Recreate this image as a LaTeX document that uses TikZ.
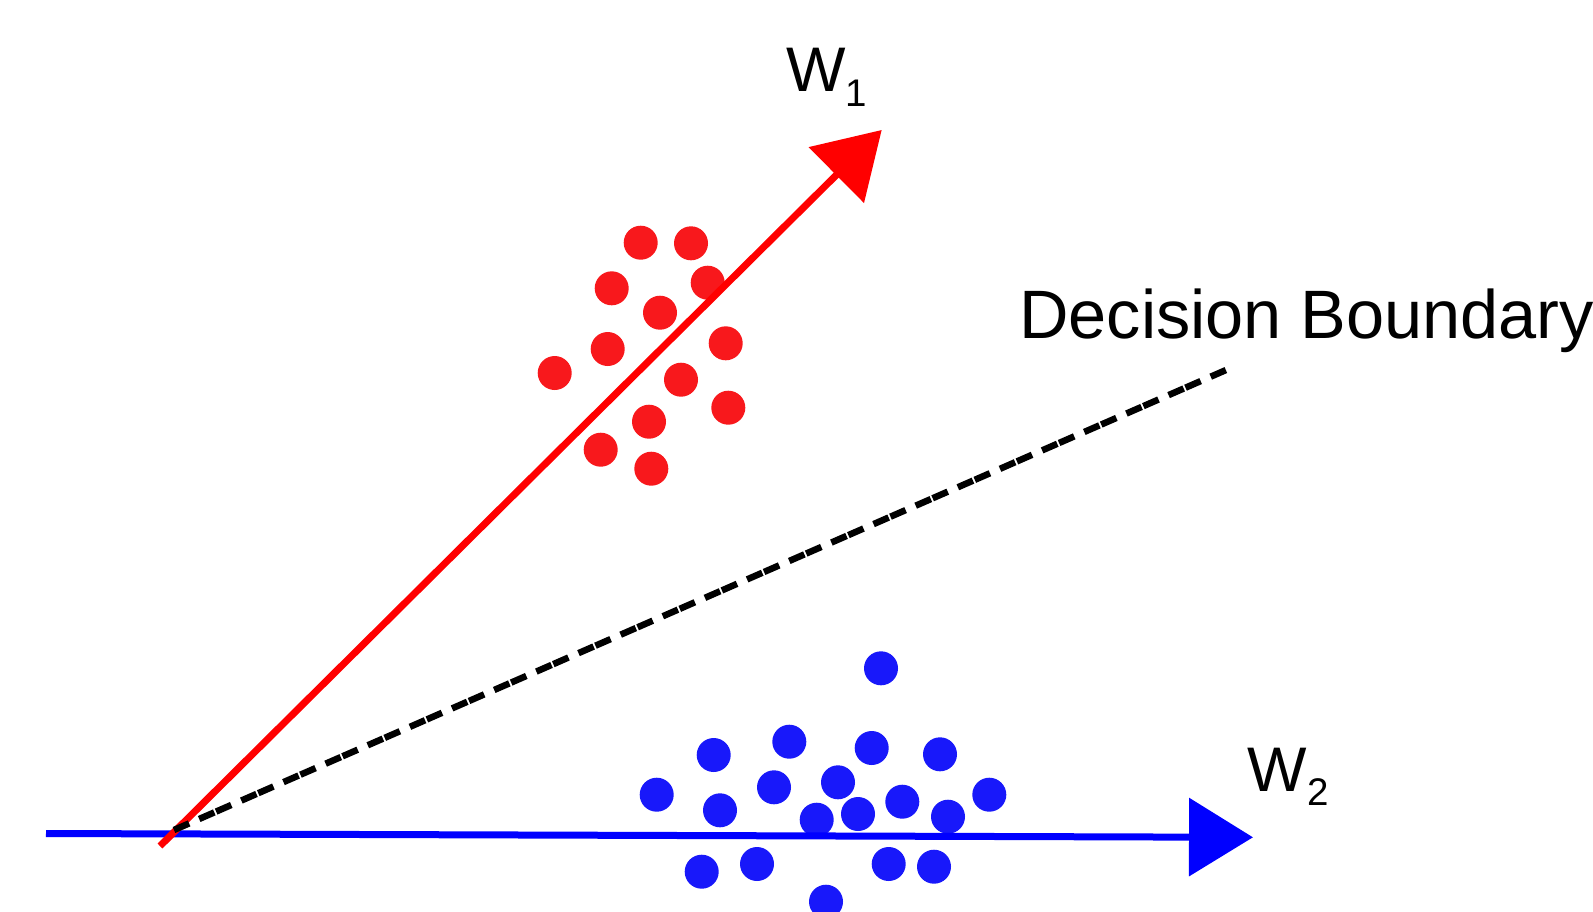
\documentclass[tikz,border=0pt]{standalone}
\usepackage{fontspec}
\setmainfont{Liberation Sans}
\usetikzlibrary{arrows.meta}
\definecolor{dotred}{RGB}{248,24,28}
\definecolor{dotblue}{RGB}{24,24,250}
\tikzset{
  reddot/.style={fill=dotred},
  bluedot/.style={fill=dotblue},
  vec/.style={line width=7pt, -{Triangle[length=64pt,width=77pt]}},
  bound/.style={line width=6.5pt, dash pattern=on 16.5pt off 2pt on 16.5pt off 11pt, dash phase=18.5pt},
  lbl/.style={inner sep=0pt, anchor=base west},
}
\begin{document}
\begin{tikzpicture}[x=1pt,y=-1pt]
\useasboundingbox (0,0) rectangle (1593,911);
% red dots
\foreach \p in {(640.7,242.7),(691,243.3),(611.7,288.3),(707.7,282.7),(660,312.7),(607.7,349),(725.7,343.3),(554.7,373),(681,379.7),(728.3,407.7),(649,421.7),(600.7,449.7),(651.3,468.7)}
  \fill[reddot] \p circle (17);
% blue dots
\foreach \p in {(881,668.3),(713.7,755),(789.3,741.7),(871.7,748),(940,754.3),(656.7,794.7),(774,787.3),(838,782.3),(989.3,794.7),(720,810.3),(816.7,819.7),(858,814),(902.3,801.7),(948,816.7),(701.7,871.7),(757,864),(888.7,864),(934,866.7),(826,901.7)}
  \fill[bluedot] \p circle (17);
% vectors
\coordinate (b0) at (46,833.5);
\coordinate (b1) at (1253,837.3);
\coordinate (r0) at (160,846);
\coordinate (r1) at (881.7,130);
\coordinate (d0) at (174,830);
\coordinate (d1) at (1226,370);
\draw[vec, blue] (b0) -- (b1);
\draw[vec, red] (r0) -- (r1);
\draw[bound, black] (d0) -- (d1);
% labels
\node[lbl, font=\fontsize{68.5}{80}\selectfont] (db) at (1019,338) {Decision Boundary};
\node[lbl, font=\fontsize{63}{70}\selectfont] (w1) at (786,91.7) {W\raisebox{-14.3pt}{\fontsize{38.5}{40}\selectfont 1}};
\node[lbl, font=\fontsize{63}{70}\selectfont] (w2) at (1247.5,791.7) {W\raisebox{-13.8pt}{\fontsize{38.5}{40}\selectfont 2}};
\end{tikzpicture}
\end{document}
